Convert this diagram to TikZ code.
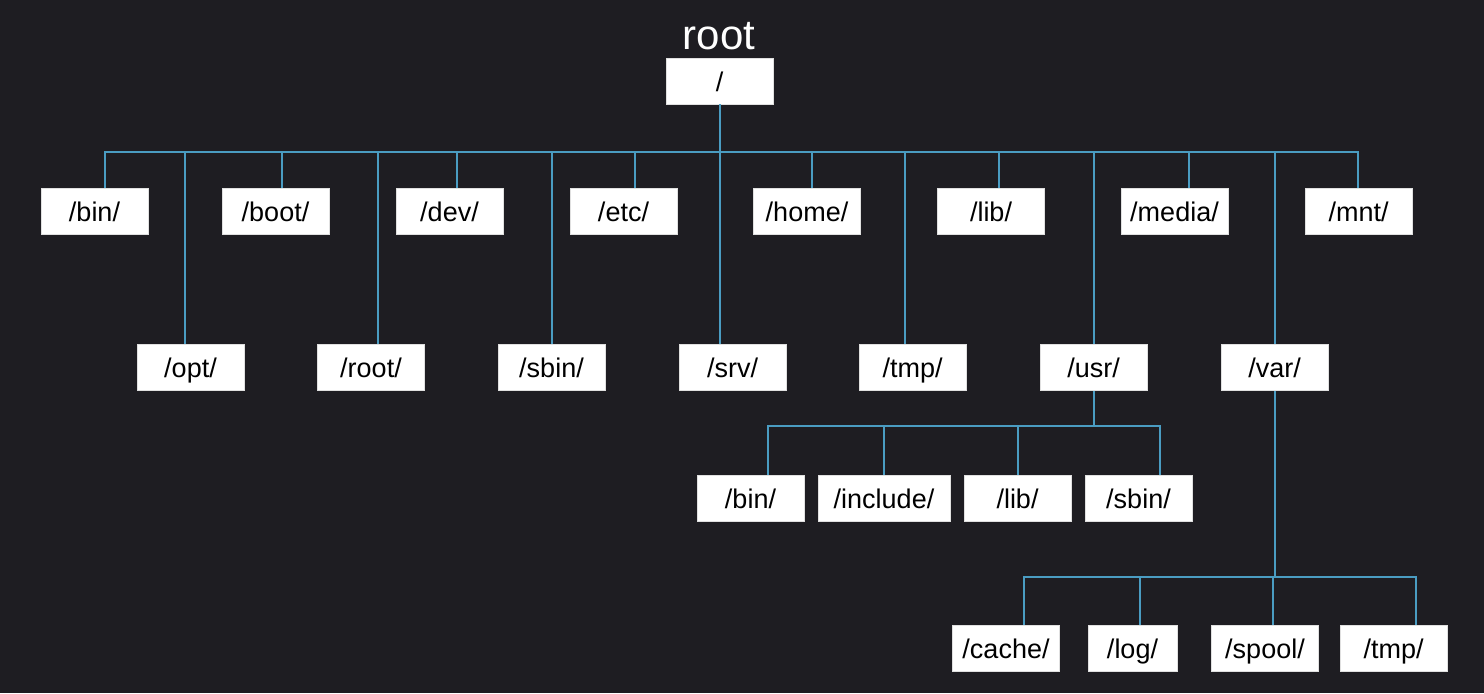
\documentclass[tikz,border=0pt]{standalone}
\usepackage{fontspec}
\setmainfont{Liberation Sans}
\usepackage{tikz}
\definecolor{bgdark}{HTML}{1E1D22}
\definecolor{linkblue}{HTML}{4A9CC2}
\tikzset{
  dirbox/.style={fill=white, draw=white!88!black, line width=0.4pt, inner sep=0pt, minimum width=53.5pt, minimum height=23pt, text height=13pt, text depth=3pt, font=\fontsize{13.5}{16}\selectfont, text=black},
  link/.style={draw=linkblue, line width=0.8pt}
}
\begin{document}
\begin{tikzpicture}[x=0.5pt, y=-0.5pt]
\fill[bgdark] (0,0) rectangle (1484,693);
\useasboundingbox (0,0) rectangle (1484,693);
\node[anchor=base, text=white, font=\fontsize{21}{24}\selectfont] (roottitle) at (719,49) {root};
\node[dirbox] (root) at (719.5,81) {/};
\node[dirbox] (bin) at (94.5,211.5) {/bin/};
\node[dirbox] (boot) at (275.5,211.5) {/boot/};
\node[dirbox] (dev) at (449.5,211.5) {/dev/};
\node[dirbox] (etc) at (623.5,211.5) {/etc/};
\node[dirbox] (home) at (807,211.5) {/home/};
\node[dirbox] (lib) at (991,211.5) {/lib/};
\node[dirbox] (media) at (1174.5,211.5) {/media/};
\node[dirbox] (mnt) at (1358.5,211.5) {/mnt/};
\node[dirbox] (opt) at (190.5,367.5) {/opt/};
\node[dirbox] (rootdir) at (371,367.5) {/root/};
\node[dirbox] (sbin) at (551.5,367.5) {/sbin/};
\node[dirbox] (srv) at (732.5,367.5) {/srv/};
\node[dirbox] (tmp) at (912.5,367.5) {/tmp/};
\node[dirbox] (usr) at (1093.5,367.5) {/usr/};
\node[dirbox] (var) at (1274.5,367.5) {/var/};
\node[dirbox] (usrbin) at (750.5,498.5) {/bin/};
\node[dirbox, minimum width=66pt] (usrinclude) at (884,498.5) {/include/};
\node[dirbox] (usrlib) at (1017.5,498.5) {/lib/};
\node[dirbox] (usrsbin) at (1138.5,498.5) {/sbin/};
\node[dirbox] (varcache) at (1006,648) {/cache/};
\node[dirbox, minimum width=44.5pt] (varlog) at (1132.5,648) {/log/};
\node[dirbox] (varspool) at (1265,648) {/spool/};
\node[dirbox] (vartmp) at (1393.5,648) {/tmp/};
\coordinate (topbus) at (720,152);
\coordinate (usrbus) at (1094,426);
\coordinate (varbus) at (1275,577);
\draw[link] (root.south) ++(0.5,0) -- (topbus);
\foreach \n/\dx in {bin/10.5, boot/6.5, dev/7.5, etc/11.5, home/5, lib/8, media/14.5, mnt/-0.5, opt/-5.5, rootdir/7, sbin/0.5, srv/-12.5, tmp/-7.5, usr/0.5, var/0.5}
  \draw[link] (\n.north) ++(\dx,0) |- (topbus);
\draw[link] (usr.south) ++(0.5,0) -- (usrbus);
\foreach \n/\dx in {usrbin/17.5, usrinclude/0, usrlib/0.5, usrsbin/21.5}
  \draw[link] (\n.north) ++(\dx,0) |- (usrbus);
\draw[link] (var.south) ++(0.5,0) -- (varbus);
\foreach \n/\dx in {varcache/18, varlog/7.5, varspool/8, vartmp/22.5}
  \draw[link] (\n.north) ++(\dx,0) |- (varbus);
\end{tikzpicture}
\end{document}
